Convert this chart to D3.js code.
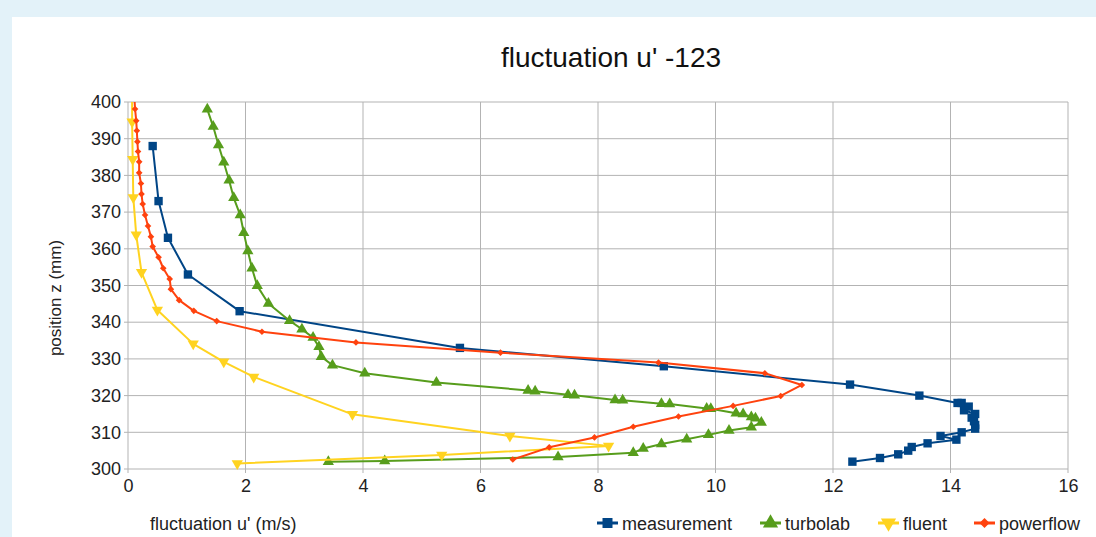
<!DOCTYPE html>
<html>
<head>
<meta charset="utf-8">
<script src="https://cdn.jsdelivr.net/npm/d3@7"></script>
<style>
  body { margin: 0; background: #e3f2f9; }
  svg { display: block; font-family: "Liberation Sans", Arial, sans-serif; }
</style>
</head>
<body>
<svg id="chart" width="1096" height="537"></svg>
<script>
// Data: z positions (mm) and u' values (m/s) per series
const measurementZ = [388, 373, 363, 353, 343, 333, 328, 323, 320, 318, 318, 317, 316, 315, 314, 313, 312, 311, 310, 309, 308, 307, 306, 305, 304, 303, 302];
const measurementU = [0.42, 0.52, 0.68, 1.02, 1.9, 5.65, 9.12, 12.29, 13.47, 14.12, 14.19, 14.31, 14.23, 14.42, 14.36, 14.4, 14.42, 14.42, 14.19, 13.83, 14.1, 13.61, 13.34, 13.28, 13.11, 12.8, 12.33];

const turbolabZ = [398, 393.3, 388.3, 383.6, 378.7, 373.9, 369.2, 364.4, 359.4, 354.7, 349.9, 345.1, 340.4, 338.1, 335.8, 333.3, 330.6, 328.3, 326.1, 323.6, 321.4, 321.2, 320.2, 320.1, 318.8, 318.7, 317.8, 317.7, 316.5, 316.4, 315.2, 315.0, 314.2, 313.8, 312.7, 311.4, 310.5, 309.3, 308.1, 306.8, 305.6, 304.4, 303.3, 302.2, 302];
const turbolabU = [1.35, 1.45, 1.54, 1.63, 1.72, 1.8, 1.91, 1.97, 2.04, 2.11, 2.2, 2.39, 2.75, 2.96, 3.15, 3.25, 3.29, 3.48, 4.03, 5.25, 6.81, 6.93, 7.49, 7.6, 8.29, 8.42, 9.08, 9.22, 9.85, 9.92, 10.35, 10.47, 10.61, 10.68, 10.78, 10.61, 10.23, 9.88, 9.51, 9.08, 8.77, 8.6, 7.32, 4.37, 3.41];

const fluentZ = [404, 394.6, 384.4, 374, 363.8, 353.6, 343.3, 334.1, 329.2, 325.1, 314.9, 309, 306.3, 303.8, 301.5];
const fluentU = [0.07, 0.07, 0.08, 0.09, 0.14, 0.23, 0.5, 1.11, 1.63, 2.14, 3.82, 6.5, 8.18, 5.34, 1.86];

const powerflowZ = [401, 398.1, 394.9, 392.2, 389.2, 386.5, 383.7, 380.7, 377.8, 374.9, 372.2, 369.2, 366.2, 363.3, 360.6, 357.7, 354.7, 351.8, 349, 346, 343.1, 340.3, 337.4, 334.5, 331.7, 329, 326.1, 322.9, 319.9, 317.2, 314.3, 311.5, 308.6, 305.9, 302.6];
const powerflowU = [0.11, 0.12, 0.14, 0.15, 0.16, 0.17, 0.19, 0.19, 0.22, 0.23, 0.25, 0.29, 0.34, 0.39, 0.42, 0.52, 0.6, 0.71, 0.73, 0.87, 1.12, 1.51, 2.28, 3.88, 6.34, 9.03, 10.84, 11.47, 11.11, 10.3, 9.37, 8.6, 7.94, 7.17, 6.55];

const xTicks = [0, 2, 4, 6, 8, 10, 12, 14, 16];
const yTicks = [300, 310, 320, 330, 340, 350, 360, 370, 380, 390, 400];

const seriesNames = ['measurement', 'turbolab', 'fluent', 'powerflow'];
const seriesColors = ['#004586', '#579d1c', '#ffd320', '#ff420e'];

const series = [
    { name: seriesNames[0], color: seriesColors[0], symbol: d3.symbolSquare, size: 70, rot: 0, u: measurementU, z: measurementZ },
    { name: seriesNames[1], color: seriesColors[1], symbol: d3.symbolTriangle, size: 55, rot: 0, u: turbolabU, z: turbolabZ },
    { name: seriesNames[2], color: seriesColors[2], symbol: d3.symbolTriangle, size: 55, rot: 180, u: fluentU, z: fluentZ },
    { name: seriesNames[3], color: seriesColors[3], symbol: d3.symbolSquare, size: 22, rot: 45, u: powerflowU, z: powerflowZ }
];

const svg = d3.select('#chart');

// white panel
svg.append('rect')
    .attr('x', 12).attr('y', 17)
    .attr('width', 1084).attr('height', 520)
    .attr('fill', '#ffffff');

const plotLeft = 128, plotRight = 1068, plotTop = 102, plotBottom = 469;

const x = d3.scaleLinear().domain([0, 16]).range([plotLeft, plotRight]);
const y = d3.scaleLinear().domain([300, 400]).range([plotBottom, plotTop]);

// clip to the plot area (some curves run past 400 mm)
svg.append('clipPath').attr('id', 'plotClip')
    .append('rect')
    .attr('x', plotLeft - 10).attr('y', plotTop)
    .attr('width', plotRight - plotLeft + 20).attr('height', plotBottom - plotTop + 10);

// grid
const grid = svg.append('g');
grid.selectAll('.vgrid')
    .data(xTicks)
    .enter().append('line')
    .attr('x1', d => x(d)).attr('x2', d => x(d))
    .attr('y1', plotTop).attr('y2', plotBottom + 4)
    .attr('stroke', '#b3b3b3').attr('stroke-width', 1);
grid.selectAll('.hgrid')
    .data(yTicks)
    .enter().append('line')
    .attr('x1', plotLeft - 4).attr('x2', plotRight)
    .attr('y1', d => y(d)).attr('y2', d => y(d))
    .attr('stroke', '#b3b3b3').attr('stroke-width', 1);

// axes labels
const xAxis = d3.axisBottom(x).tickValues(xTicks).tickSize(0).tickPadding(10);
const yAxis = d3.axisLeft(y).tickValues(yTicks).tickSize(0).tickPadding(7);

const gx = svg.append('g').attr('transform', `translate(0,${plotBottom})`).call(xAxis);
const gy = svg.append('g').attr('transform', `translate(${plotLeft},0)`).call(yAxis);
[gx, gy].forEach(g => {
    g.select('.domain').remove();
    g.selectAll('text')
        .attr('fill', '#222')
        .style('font-size', '18px')
        .style('font-family', '"Liberation Sans", Arial, sans-serif');
});

// lines and markers
const line = d3.line()
    .x(d => x(d[0]))
    .y(d => y(d[1]));

const plot = svg.append('g').attr('clip-path', 'url(#plotClip)');

series.forEach(s => {
    const pts = s.u.map((u, i) => [u, s.z[i]]);
    plot.append('path')
        .datum(pts)
        .attr('fill', 'none')
        .attr('stroke', s.color)
        .attr('stroke-width', 2)
        .attr('stroke-linejoin', 'round')
        .attr('d', line);

    plot.append('g').selectAll('path')
        .data(pts.filter(d => d[1] <= 400))
        .enter().append('path')
        .attr('d', d3.symbol().type(s.symbol).size(s.size))
        .attr('transform', d => `translate(${x(d[0])},${y(d[1])}) rotate(${s.rot})`)
        .attr('fill', s.color);
});

// title
svg.append('text')
    .attr('x', 611).attr('y', 67)
    .attr('text-anchor', 'middle')
    .style('font-size', '28px')
    .attr('fill', '#111')
    .text("fluctuation u' -123");

// axis titles
svg.append('text')
    .attr('x', 150).attr('y', 530)
    .style('font-size', '18px')
    .attr('fill', '#222')
    .text("fluctuation u' (m/s)");

svg.append('text')
    .attr('transform', 'translate(61,298) rotate(-90)')
    .attr('text-anchor', 'middle')
    .style('font-size', '17px')
    .attr('fill', '#222')
    .text('position z (mm)');

// legend
const legendX = [597, 760, 878, 974];
const legend = svg.selectAll('.legend')
    .data(series)
    .enter().append('g')
    .attr('class', 'legend')
    .attr('transform', (d, i) => `translate(${legendX[i]},523)`);

legend.append('line')
    .attr('x1', 0).attr('x2', 21)
    .attr('y1', 0).attr('y2', 0)
    .attr('stroke', d => d.color)
    .attr('stroke-width', 3);

legend.append('path')
    .attr('d', d => d3.symbol().type(d.symbol).size(d.rot === 45 ? 50 : 100)())
    .attr('transform', d => `translate(10.5,0) rotate(${d.rot})`)
    .attr('fill', d => d.color);

legend.append('text')
    .attr('x', 25)
    .attr('y', 7)
    .style('font-size', '18px')
    .attr('fill', '#222')
    .text(d => d.name);
</script>
</body>
</html>
